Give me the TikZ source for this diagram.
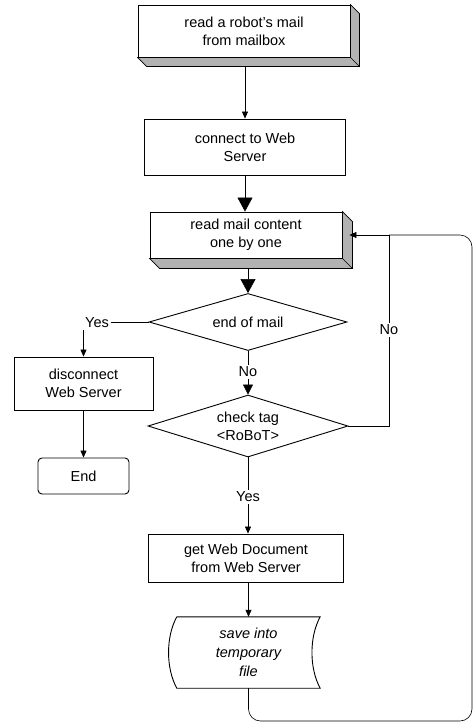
\documentclass[tikz,border=0pt]{standalone}
\usepackage{fontspec}
\setmainfont{Liberation Sans}
\usetikzlibrary{shapes.geometric,arrows.meta,calc}
\begin{document}
\begin{tikzpicture}[x=1pt,y=-1pt,
  txt/.style={font=\fontsize{14.5}{18}\selectfont},
  box/.style={txt,draw,line width=0.9pt,rectangle,inner sep=0pt,align=center},
  dec/.style={txt,draw,line width=0.9pt,diamond,aspect=3.3,inner sep=0pt,align=center},
  lbl/.style={txt,inner sep=1.5pt},
  conn/.style={line width=0.6pt},
  thinarrow/.style={conn,-{Triangle[length=7pt,width=6pt]}},
  bigarrow/.style={conn,-{Triangle[length=14pt,width=15pt]}},
  midarrow/.style={conn,-{Triangle[length=10pt,width=10pt]}},
  shade/.style={fill=gray!60,draw,line width=0.6pt}
]
\useasboundingbox (0,0) rectangle (475,724);

% boxes
\node[box,minimum width=212pt,minimum height=52pt] (top) at (244,31) {read a robot's mail\\from mailbox};
\draw[shade] (top.north east) -- ++(9,9) -- ($(top.south east)+(9,9)$) -- ($(top.south west)+(9,9)$) -- (top.south west) -- (top.south east) -- cycle;
\draw[conn] (top.south east) -- ++(9,9);

\node[box,minimum width=201pt,minimum height=56pt] (connect) at (245,147) {connect to Web\\Server};

\node[box,minimum width=192pt,minimum height=46pt] (read) at (246,235) {read mail content\\one by one};
\draw[shade] (read.north east) -- ++(10,10) -- ($(read.south east)+(10,10)$) -- ($(read.south west)+(10,10)$) -- (read.south west) -- (read.south east) -- cycle;
\draw[conn] (read.south east) -- ++(10,10);

\node[dec,minimum width=198pt,minimum height=57pt] (endmail) at (248,322) {end of mail};
\node[dec,minimum width=200pt,minimum height=62pt] (check) at (248,426) {check tag\\<RoBoT>};

\node[box,minimum width=139pt,minimum height=53pt] (disc) at (83.5,383.5) {disconnect\\Web Server};
\node[box,rounded corners=4pt,minimum width=91pt,minimum height=36pt] (end) at (83.5,476) {End};

\node[box,minimum width=195pt,minimum height=48pt] (getdoc) at (246,558) {get Web Document\\from Web Server};

\node[txt,align=center,inner sep=0pt,minimum width=143pt,minimum height=71pt,font=\fontsize{14.5}{19}\selectfont\itshape] (save) at (248.5,652.5) {save into\\temporary\\file};
\draw[line width=0.9pt] (save.north west) -- (save.north east)
  .. controls +(-11,20) and +(-11,-20) .. (save.south east) -- (save.south west)
  .. controls +(-11,-20) and +(-11,20) .. (save.north west);

% labels
\node[lbl] (yes1) at (97,323) {Yes};
\node[lbl] (no1) at (248,372) {No};
\node[lbl] (yes2) at (248,497) {Yes};
\node[lbl,fill=white] (no2) at (389,330) {No};

\coordinate (join) at (389,235);
\coordinate (loopbl) at (248,721);
\coordinate (loopbr) at (472,721);
\coordinate (looptr) at (472,235);

% connectors
\draw[thinarrow] ($(top.south)+(1,9)$) -- (connect.north);
\draw[bigarrow] (connect.south) -- (connect.south |- read.north);
\draw[bigarrow] ($(read.south -| endmail.north)+(0,10)$) -- (endmail.north);
\draw[conn] (endmail.south) -- (no1.north);
\draw[midarrow] (no1.south) -- (check.north);
\draw[conn] (check.south) -- (yes2.north);
\draw[thinarrow] (yes2.south) -- (yes2.south |- getdoc.north);
\draw[thinarrow] (getdoc.south -| save.north) -- (save.north);
\draw[conn] (endmail.west) -- (yes1.east |- endmail.west);
\draw[thinarrow] (yes1.south -| disc.north) -- (disc.north);
\draw[thinarrow] (disc.south) -- (end.north);
\draw[conn] (check.east) -- (check.east -| no2.south) -- (no2.south);
\draw[conn] (no2.north) -- (join);
\draw[conn,rounded corners=12pt] (save.south) -- (save.south |- loopbl) -- (loopbr) -- (looptr) -- (join);
\draw[thinarrow] (join) -- ($(read.east)+(7,0)$);
\end{tikzpicture}
\end{document}
